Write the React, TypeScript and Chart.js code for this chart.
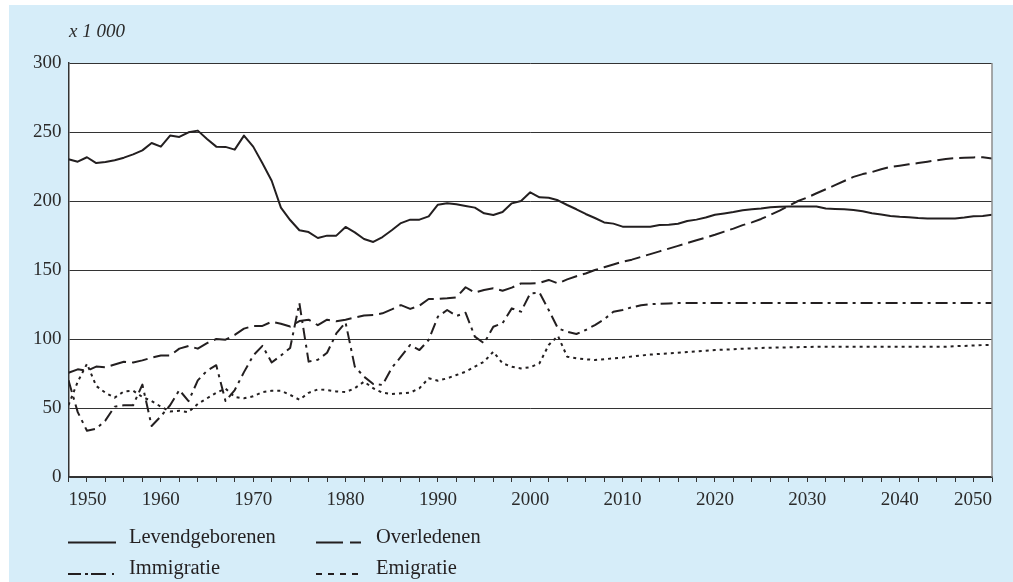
import React, { useEffect, useRef } from 'react';
import { Chart, registerables } from 'chart.js';

Chart.register(...registerables);

// ---- data (x 1 000), one value per year ----
const START_YEAR = 1950;
const END_YEAR = 2050;

const levendgeborenen = [
  230.2, 228.5, 231.7, 227.5, 228.3, 229.5, 231.4, 233.8, 236.7, 242.0, // 1950-1959
  239.4, 247.4, 246.4, 249.8, 251.0, 245.0, 239.4, 239.2, 237.2, 247.4, // 1960-1969
  239.4, 227.3, 214.7, 195.2, 186.2, 178.8, 177.5, 173.2, 174.9, 174.9, // 1970-1979
  181.2, 177.3, 172.5, 170.3, 173.9, 178.8, 184.0, 186.5, 186.5, 188.9, // 1980-1989
  197.3, 198.3, 197.6, 196.4, 195.2, 191.1, 189.9, 192.0, 198.3, 200.0, // 1990-1999
  206.3, 202.7, 202.4, 200.5, 197.1, 194.0, 190.6, 187.7, 184.5, 183.6, // 2000-2009
  181.4, 181.4, 181.4, 181.4, 182.6, 182.8, 183.5, 185.5, 186.5, 188.0, // 2010-2019
  190.0, 191.0, 192.0, 193.3, 194.0, 194.5, 195.4, 195.8, 196.1, 196.1, // 2020-2029
  196.1, 196.0, 194.5, 194.2, 194.0, 193.4, 192.5, 191.2, 190.2, 189.2, // 2030-2039
  188.6, 188.3, 187.6, 187.4, 187.4, 187.4, 187.4, 188.0, 188.9, 189.2, // 2040-2049
  190.0, // 2050
];

const overledenen = [
  75.5, 78.0, 77.0, 80.0, 79.5, 81.5, 83.5, 83.0, 84.5, 86.5,
  88.0, 88.0, 93.0, 95.0, 93.0, 97.0, 100.0, 99.5, 103.0, 107.5,
  109.5, 109.5, 112.5, 111.0, 109.0, 113.0, 114.0, 110.0, 114.0, 112.8,
  114.0, 115.5, 117.0, 117.4, 118.6, 121.5, 124.6, 121.8, 124.2, 129.0,
  129.0, 129.5, 130.2, 137.5, 133.6, 135.5, 136.7, 135.0, 137.2, 140.3,
  140.3, 140.6, 142.8, 140.3, 143.2, 145.5, 147.5, 150.0, 152.0, 154.0,
  156.0, 157.5, 159.5, 161.5, 163.5, 165.5, 167.5, 169.5, 171.5, 173.5,
  175.5, 177.8, 180.0, 182.5, 184.5, 187.0, 190.0, 193.0, 196.5, 200.0,
  202.5, 205.6, 208.5, 211.5, 214.5, 217.5, 219.5, 221.0, 223.0, 224.7,
  225.6, 226.6, 227.5, 228.5, 229.5, 230.5, 231.0, 231.3, 231.6, 231.7,
  230.7,
];

const immigratie = [
  70.0, 47.0, 33.5, 35.0, 41.0, 51.0, 52.0, 52.0, 67.0, 37.0,
  44.0, 52.0, 63.0, 55.0, 70.0, 77.0, 81.0, 55.0, 63.0, 76.0,
  88.0, 95.0, 83.0, 88.0, 93.5, 126.0, 83.6, 85.0, 90.0, 104.0,
  112.0, 80.0, 72.7, 67.4, 66.7, 79.0, 87.2, 95.7, 92.0, 99.3,
  116.2, 121.0, 116.7, 119.0, 101.7, 96.9, 108.9, 111.4, 122.2, 119.8,
  133.1, 133.6, 121.0, 107.7, 105.3, 103.6, 106.5, 110.1, 114.2, 119.8,
  121.0, 123.0, 124.4, 125.2, 125.5, 125.8, 126.0, 126.0, 126.0, 126.0,
  126.0, 126.0, 126.0, 126.0, 126.0, 126.0, 126.0, 126.0, 126.0, 126.0,
  126.0, 126.0, 126.0, 126.0, 126.0, 126.0, 126.0, 126.0, 126.0, 126.0,
  126.0, 126.0, 126.0, 126.0, 126.0, 126.0, 126.0, 126.0, 126.0, 126.0,
  126.0,
];

const emigratie = [
  52.0, 69.0, 82.0, 66.0, 61.0, 57.5, 62.0, 62.5, 58.0, 55.0,
  51.0, 47.5, 48.0, 47.0, 53.0, 57.0, 61.0, 64.0, 58.0, 57.0,
  58.5, 61.5, 62.5, 62.5, 59.5, 56.0, 61.0, 63.5, 63.0, 62.0,
  61.5, 64.3, 69.1, 64.3, 61.1, 60.1, 60.6, 61.1, 64.3, 71.5,
  69.8, 71.5, 73.9, 76.3, 79.9, 83.6, 90.8, 82.4, 79.9, 78.7,
  79.5, 82.4, 95.7, 102.2, 87.2, 86.0, 85.3, 84.8, 85.3, 86.0,
  86.5, 87.3, 88.0, 88.7, 89.2, 89.6, 90.0, 90.5, 91.0, 91.5,
  92.0, 92.3, 92.6, 93.0, 93.2, 93.5, 93.7, 93.8, 94.0, 94.1,
  94.2, 94.4, 94.4, 94.4, 94.4, 94.4, 94.4, 94.4, 94.4, 94.4,
  94.4, 94.4, 94.4, 94.4, 94.4, 94.4, 94.8, 95.0, 95.3, 95.6,
  95.7,
];

const seriesLabels = ['Levendgeborenen', 'Overledenen', 'Immigratie', 'Emigratie'];
const Y_MIN = 0;
const Y_MAX = 300;
const Y_STEP = 50;
const X_TICK_STEP = 2;
const X_LABEL_EVERY = 10;
const unitLabel = 'x 1 000';

// ---- styles ----
const FONT = '"Liberation Serif", "Times New Roman", serif';
const INK = '#231f20';
const TEXT = '#2b2b2b';
const BLUE = '#d6edf9';
const DASHES: number[][] = [[], [16, 6], [12, 5, 3, 5], [3, 4]];

export default function App() {
  const ref = useRef<HTMLCanvasElement>(null);

  useEffect(() => {
    const canvas = ref.current;
    if (!canvas) return;
    const series = [levendgeborenen, overledenen, immigratie, emigratie];
    const toPoints = (arr: number[]) => arr.map((v, i) => ({ x: START_YEAR + i, y: v }));

    const decor = {
      id: 'decor',
      beforeDraw(chart: any) {
        const { ctx, width, height, chartArea: a } = chart;
        ctx.save();
        ctx.fillStyle = '#ffffff';
        ctx.fillRect(0, 0, width, height);
        ctx.fillStyle = BLUE;
        ctx.fillRect(9, 5, width - 9, height - 5);
        ctx.fillStyle = '#ffffff';
        ctx.fillRect(a.left, a.top, a.right - a.left, a.bottom - a.top);
        ctx.restore();
      },
      afterDraw(chart: any) {
        const { ctx, chartArea: a } = chart;
        ctx.save();
        // right frame line
        ctx.strokeStyle = '#8c8c8c';
        ctx.lineWidth = 1.5;
        ctx.beginPath();
        ctx.moveTo(a.right, a.top);
        ctx.lineTo(a.right, a.bottom);
        ctx.stroke();

        // unit label
        ctx.fillStyle = TEXT;
        ctx.font = 'italic 19px ' + FONT;
        ctx.textAlign = 'left';
        ctx.textBaseline = 'alphabetic';
        ctx.fillText(unitLabel, 69, 37);

        // legend
        const legend = [
          { x0: 68, x1: 116, y: 542.5, tx: 129, ty: 543, dash: [] as number[] },
          { x0: 316, x1: 362, y: 542.5, tx: 376, ty: 543, dash: [27, 7, 11, 100] },
          { x0: 68, x1: 115, y: 574, tx: 129, ty: 574, dash: [13, 4, 3, 3, 15, 6, 2, 50] },
          { x0: 316, x1: 359, y: 574, tx: 376, ty: 574, dash: [6, 6] },
        ];
        legend.forEach((l, i) => {
          ctx.strokeStyle = INK;
          ctx.lineWidth = 2;
          ctx.lineCap = 'butt';
          ctx.setLineDash(l.dash);
          ctx.beginPath();
          ctx.moveTo(l.x0, l.y);
          ctx.lineTo(l.x1, l.y);
          ctx.stroke();
          ctx.setLineDash([]);
          ctx.fillStyle = INK;
          ctx.font = '20.5px ' + FONT;
          ctx.fillText(seriesLabels[i], l.tx, l.ty);
        });
        ctx.restore();
      },
    };

    const chart = new Chart(canvas, {
      type: 'line',
      data: {
        datasets: series.map((arr, i) => ({
          label: seriesLabels[i],
          data: toPoints(arr),
          borderColor: INK,
          borderWidth: 2,
          borderDash: DASHES[i],
          borderCapStyle: 'butt',
          borderJoinStyle: 'round',
          pointRadius: 0,
          tension: 0,
          fill: false,
        })),
      },
      options: {
        animation: false,
        responsive: false,
        devicePixelRatio: 1,
        layout: { padding: { left: 9, top: 63, right: 21, bottom: 70 } },
        plugins: { legend: { display: false }, tooltip: { enabled: false } },
        scales: {
          x: {
            type: 'linear',
            min: START_YEAR,
            max: END_YEAR,
            afterFit: (s: any) => { s.height = 35; },
            ticks: {
              stepSize: X_TICK_STEP,
              autoSkip: false,
              maxRotation: 0,
              align: 'inner',
              padding: 7,
              color: TEXT,
              font: { family: FONT, size: 19 },
              callback: (v: any) => (Number(v) % X_LABEL_EVERY === 0 ? String(v) : ''),
            },
            grid: { drawOnChartArea: false, drawTicks: true, tickLength: 5, color: '#333333', lineWidth: 1 },
            border: { display: true, color: '#333333', width: 1.5 },
          },
          y: {
            min: Y_MIN,
            max: Y_MAX,
            afterFit: (s: any) => { s.width = 59.5; },
            ticks: {
              stepSize: Y_STEP,
              padding: 7,
              color: TEXT,
              font: { family: FONT, size: 19 },
            },
            grid: { color: '#333333', lineWidth: 1, drawTicks: false },
            border: { display: true, color: '#333333', width: 1.5 },
          },
        },
      },
      plugins: [decor],
    } as any);

    return () => chart.destroy();
  }, []);

  return (
    <div style={{ position: 'fixed', left: 0, top: 0, width: 1013, height: 582 }}>
      <canvas ref={ref} width={1013} height={582} style={{ width: 1013, height: 582, display: 'block' }} />
    </div>
  );
}
